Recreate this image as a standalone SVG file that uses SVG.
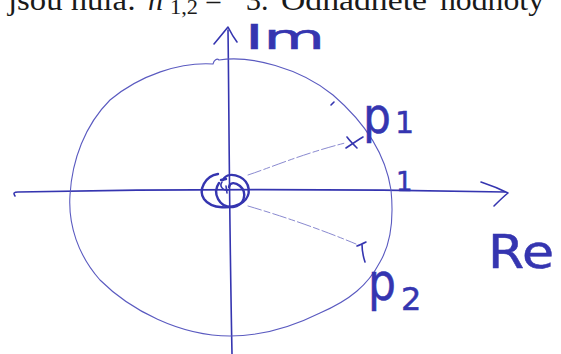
<svg xmlns="http://www.w3.org/2000/svg" width="561" height="354" viewBox="0 0 561 354">
<style>
.ink{fill:none;stroke:#3535b0;stroke-linecap:round;stroke-linejoin:round}
.thick{stroke-width:2.4}
.mid{stroke-width:1.6}
.thin{stroke-width:1.1;stroke:#5a5ac0}
.faint{stroke-width:1;stroke:#8a8ad0;stroke-dasharray:14 3 6 3}
.lbl{fill:#3535b0;stroke:#3535b0;stroke-width:0.5;font-family:"DejaVu Sans",sans-serif}
.print{fill:#1a1a1a;font-family:"Liberation Serif",serif;font-size:30px}
</style>
<rect width="561" height="354" fill="#ffffff"/>
<g id="header">
<text class="print" y="10"><tspan x="8" textLength="128" lengthAdjust="spacingAndGlyphs">jsou nula:</tspan><tspan x="148" font-style="italic">n</tspan><tspan x="170" y="14" font-size="20" textLength="28" lengthAdjust="spacingAndGlyphs">1,2</tspan><tspan x="205" y="10">=</tspan><tspan x="246">3.</tspan><tspan x="281" textLength="146" lengthAdjust="spacingAndGlyphs">Odhadnete</tspan><tspan x="440" textLength="104" lengthAdjust="spacingAndGlyphs">hodnoty</tspan></text>
</g>
<g id="axes">
<path class="ink mid" d="M228,30 C229,100 229,200 232,354"/>
<path class="ink mid" d="M214,44 C219,38 224,32 228,27 C231,33 234,38 237,42"/>
<path class="ink mid" d="M15,196 C13,193 14,192 18,192 C120,190 300,188 505,192"/>
<path class="ink mid" d="M481,182 C490,185 500,189 508,193 C503,197 498,202 494,206"/>
</g>
<g id="unit-circle">
<path class="ink thin" d="M213,64 C214,60 217,58 219,60 C250,55 300,68 333,95 C362,120 385,150 391,190 C394,220 390,245 380,262 C368,285 350,300 320,313 C290,328 260,336 230,336 C180,336 130,310 100,280 C78,255 68,225 70,195 C72,160 85,125 110,100 C140,75 180,62 213,64"/>
<path class="ink mid" d="M331,105 L334,102"/>
</g>
<g id="origin">
<path class="ink thick" d="M218,174 C205,176 198,190 204,199 C211,209 232,210 243,202 C252,195 250,182 240,177 C233,174 226,174 223,180"/>
<path class="ink thick" d="M219,183 C212,193 219,208 233,207 C244,206 248,193 240,186 C235,182 230,182 229,187"/>
<path class="ink mid" d="M222,182 C219,186 223,191 228,190 M226,186 L227,193"/>
<path class="ink thick" d="M221,180 L226,179"/>
</g>
<g id="connectors">
<path class="ink faint" d="M248,175 C272,167 302,154 345,143"/>
<path class="ink faint" d="M248,206 C282,216 320,229 356,244"/>
</g>
<g id="pole-p1">
<path class="ink mid" d="M347,137 C350,141 354,145 357,148 M346,148 C352,144 358,140 363,137"/>
<text class="lbl" x="363" y="133" font-size="50" textLength="28" lengthAdjust="spacingAndGlyphs">p</text>
<text class="lbl" x="395" y="133" font-size="30">1</text>
</g>
<g id="pole-p2">
<path class="ink mid" d="M357,246 C360,245 364,243 366,242 M362,244 C362,250 363,256 365,262"/>
<text class="lbl" x="368" y="300" font-size="52" textLength="28" lengthAdjust="spacingAndGlyphs">p</text>
<text class="lbl" x="401" y="310" font-size="32">2</text>
</g>
<g id="labels">
<text class="lbl" x="245" y="49" font-size="34" textLength="80" lengthAdjust="spacingAndGlyphs">Im</text>
<text class="lbl" x="488" y="268" font-size="46" textLength="66" lengthAdjust="spacingAndGlyphs">Re</text>
<text class="lbl" x="396" y="191" font-size="26">1</text>
</g>
</svg>
